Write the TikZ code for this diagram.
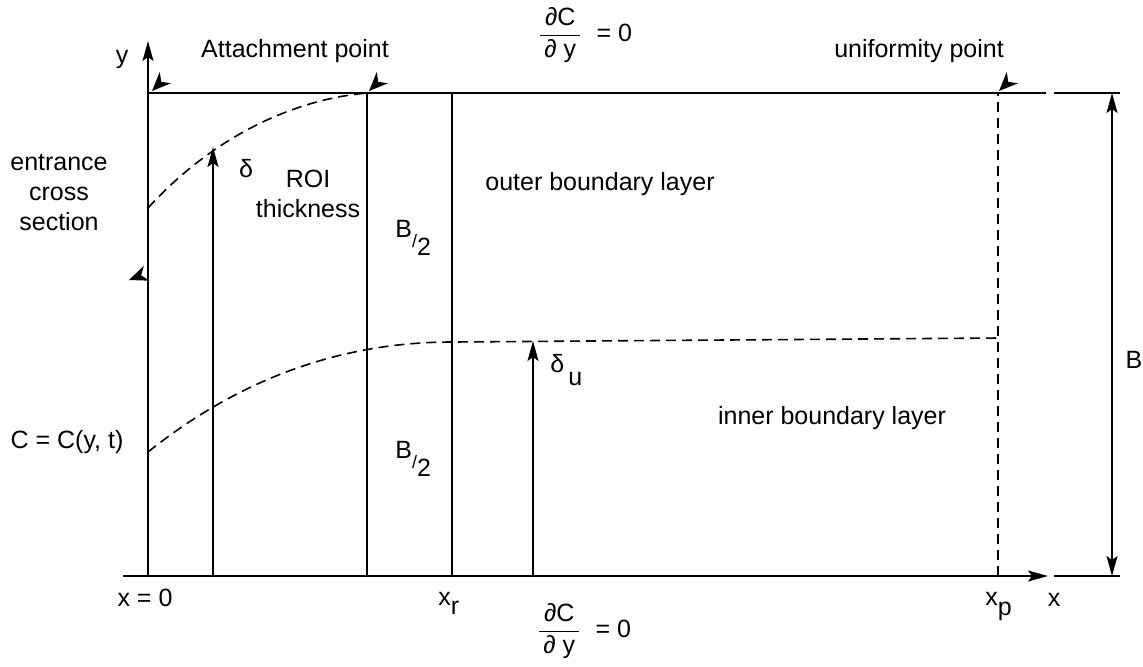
\documentclass[tikz,border=0pt]{standalone}
\usepackage{fontspec}
\setmainfont{Liberation Sans}
\usetikzlibrary{arrows.meta}
\begin{document}
\begin{tikzpicture}[x=0.5pt,y=-0.5pt,
  lbl/.style={inner sep=0pt, anchor=base, font=\fontsize{12.5}{15}\selectfont},
  ln/.style={line width=0.9pt},
  dsh/.style={line width=0.8pt, dash pattern=on 5pt off 3pt},
  arr/.style={-{Stealth[length=10pt,width=5.5pt,inset=2pt]}},
  darr/.style={{Stealth[length=10pt,width=5.5pt,inset=2pt]}-{Stealth[length=10pt,width=5.5pt,inset=2pt]}},
  ptmark/.pic={\fill (0,0) -- (19,8) -- (13,0) -- (19,-8) -- cycle;}
]
\useasboundingbox (0,0) rectangle (1143,666);

% key coordinates
\coordinate (O) at (148,576);
\coordinate (Ytop) at (148,41);
\coordinate (TL) at (148,93);
\coordinate (Xs) at (123,576);
\coordinate (Xe) at (1048,576);
\coordinate (T1) at (1046,93);
\coordinate (T2) at (1054,93);
\coordinate (T3) at (1120,93);
\coordinate (B2) at (1054,576);
\coordinate (B3) at (1120,576);
\coordinate (Btop) at (1112,93);
\coordinate (Bbot) at (1112,576);
\coordinate (d0) at (213,576);
\coordinate (d1) at (213,147);
\coordinate (a0) at (367,576);
\coordinate (a1) at (367,93);
\coordinate (r0) at (452,576);
\coordinate (r1) at (452,93);
\coordinate (u0) at (533,576);
\coordinate (u1) at (533,341);
\coordinate (p0) at (998,576);
\coordinate (p1) at (998,93);
\coordinate (c1s) at (148,208);
\coordinate (c2s) at (148,452);
\coordinate (c2m) at (452,342);
\coordinate (c2e) at (998,338);

% axes and frame
\draw[ln,arr] (O) -- (Ytop);
\draw[ln,arr] (Xs) -- (Xe);
\draw[ln] (TL) -- (T1);
\draw[ln] (T2) -- (T3);
\draw[ln] (B2) -- (B3);
\draw[ln,darr] (Btop) -- (Bbot);

% verticals
\draw[ln,arr] (d0) -- (d1);
\draw[ln] (a0) -- (a1);
\draw[ln] (r0) -- (r1);
\draw[ln,arr] (u0) -- (u1);
\draw[dsh] (p0) -- (p1);

% boundary-layer curves
\draw[dsh] (c1s) .. controls (208,142) and (287,100) .. (a1);
\draw[dsh] (c2s) .. controls (248,372) and (352,342) .. (c2m) -- (c2e);

% point markers
\pic[rotate=45] at (152,91) {ptmark};
\pic[rotate=45] at (369,91) {ptmark};
\pic[rotate=45] at (999,91) {ptmark};
\pic[rotate=21] at (129,280) {ptmark};

% labels
\node[lbl] (ly) at (122,63) {y};
\node[lbl] (latt) at (295,57) {Attachment point};
\node[lbl] (luni) at (919,57) {uniformity point};
\node[inner sep=0pt, font=\fontsize{12.5}{15}\selectfont] (ftop) at (585,35)
  {$\displaystyle\frac{\mbox{\,∂C\,}}{\mbox{\,∂ y\,}}$\ \ = 0};
\node[inner sep=0pt, font=\fontsize{12.5}{15}\selectfont] (fbot) at (584,631)
  {$\displaystyle\frac{\mbox{\,∂C\,}}{\mbox{\,∂ y\,}}$\ \ = 0};
\node[lbl] (le1) at (59,170) {entrance};
\node[lbl] (le2) at (59,200) {cross};
\node[lbl] (le3) at (59,230) {section};
\node[lbl] (lc) at (67,448) {C = C(y, t)};
\node[lbl] (ld) at (246,177) {δ};
\node[lbl] (lroi) at (308,187) {ROI};
\node[lbl] (lth) at (308,217) {thickness};
\node[lbl, anchor=base west] (lb1) at (395,237) {B\raisebox{-5pt}{\fontsize{9}{9}\selectfont/}\raisebox{-9pt}{2}};
\node[lbl, anchor=base west] (lb2) at (395,458) {B\raisebox{-5pt}{\fontsize{9}{9}\selectfont/}\raisebox{-9pt}{2}};
\node[lbl] (lout) at (600,190) {outer boundary layer};
\node[lbl] (lin) at (832,424) {inner boundary layer};
\node[lbl, anchor=base west] (ldu) at (550,372) {δ\hspace{2pt}\raisebox{-6.5pt}{u}};
\node[lbl] (lB) at (1134,368) {B};
\node[lbl] (lx0) at (145,606) {x = 0};
\node[lbl, anchor=base west] (lxr) at (438,605) {x\raisebox{-4.5pt}{r}};
\node[lbl, anchor=base west] (lxp) at (985,605) {x\raisebox{-5pt}{p}};
\node[lbl] (lx) at (1054,606) {x};
\end{tikzpicture}
\end{document}
